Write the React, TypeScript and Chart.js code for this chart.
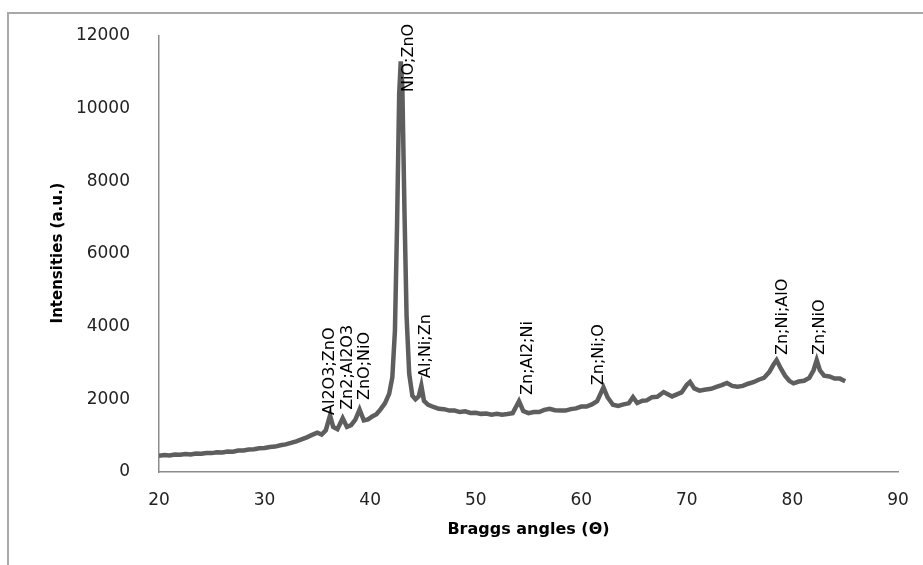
import React, { useEffect, useRef } from "react";
import { Chart, registerables } from "chart.js";
Chart.register(...registerables);

const angles = [
  20, 20.5, 21, 21.5, 22, 22.5, 23, 23.5, 24, 24.5, 25, 25.5, 26, 26.5, 27, 27.5, 28, 28.5, 29, 29.5,
  30, 30.5, 31, 31.5, 32, 32.5, 33, 33.5, 34, 34.5, 35, 35.4, 35.8, 36.2, 36.5, 36.9, 37.4, 37.8, 38.2, 38.6,
  39.0, 39.4, 39.8, 40.2, 40.6, 41.0, 41.4, 41.8, 42.1, 42.35, 42.55, 42.75, 42.9, 43.05, 43.25, 43.45, 43.7, 44.0, 44.3, 44.6,
  44.85, 45.1, 45.5, 46, 46.5, 47, 47.5, 48, 48.5, 49, 49.5, 50, 50.5, 51, 51.5, 52, 52.5, 53, 53.5, 54.1,
  54.5, 55, 55.5, 56, 56.5, 57, 57.5, 58, 58.5, 59, 59.5, 60, 60.5, 61, 61.5, 62.1, 62.5, 63, 63.5, 64,
  64.5, 64.9, 65.3, 65.8, 66.2, 66.7, 67.2, 67.8, 68.2, 68.6, 69, 69.5, 70.0, 70.3, 70.7, 71.2, 71.8, 72.3, 72.8, 73.3,
  73.8, 74.3, 74.8, 75.3, 75.8, 76.3, 76.8, 77.3, 77.8, 78.2, 78.5, 78.9, 79.3, 79.7, 80.1, 80.6, 81.1, 81.6, 82.0, 82.3,
  82.6, 83, 83.5, 84, 84.5, 85,
];
const intensities = [
  450, 465, 455, 480, 475, 495, 485, 510, 505, 525, 520, 545, 540, 565, 560, 590, 595, 620, 625, 655,
  660, 690, 700, 735, 760, 800, 845, 900, 955, 1020, 1080, 1030, 1150, 1560, 1240, 1180, 1480, 1240, 1290, 1440,
  1720, 1420, 1450, 1530, 1590, 1730, 1890, 2150, 2600, 3900, 6800, 10400, 11300, 10600, 7200, 4300, 2700, 2100, 2000, 2080,
  2380, 1960, 1850, 1790, 1740, 1730, 1690, 1690, 1650, 1670, 1625, 1630, 1600, 1610, 1580, 1605, 1575, 1595, 1620, 1950,
  1680, 1620, 1650, 1650, 1710, 1740, 1700, 1690, 1690, 1730, 1750, 1800, 1800, 1860, 1950, 2330, 2050, 1850, 1820, 1860,
  1890, 2060, 1900, 1960, 1970, 2060, 2070, 2200, 2140, 2080, 2130, 2190, 2400, 2480, 2300, 2240, 2270, 2290, 2340, 2390,
  2450, 2370, 2350, 2370, 2430, 2470, 2540, 2590, 2750, 2950, 3080, 2850, 2650, 2510, 2440, 2490, 2510, 2590, 2800, 3080,
  2800, 2650, 2630, 2570, 2570, 2500,
];

const peakLabels = ["Al2O3;ZnO", "Zn2;Al2O3", "ZnO;NiO", "NiO;ZnO", "Al;Ni;Zn", "Zn;Al2;Ni", "Zn;Ni;O", "Zn;Ni;AlO", "Zn;NiO"];
const labelAngles = [36.2, 37.9, 39.5, 43.7, 45.3, 54.9, 61.7, 79.1, 82.6];
const labelIntensities = [1570, 1710, 1980, 10460, 2590, 2120, 2390, 3220, 3220];

const xTitle = "Braggs angles (Θ)";
const yTitle = "Intensities (a.u.)";
const xMin = 20, xMax = 90, xStep = 10;
const yMin = 0, yMax = 12000, yStep = 2000;

const annotPlugin = {
  id: "annot",
  afterDatasetsDraw(chart: any) {
    const { ctx, scales } = chart;
    const xs = scales.x, ys = scales.y;
    ctx.save();
    ctx.fillStyle = "#000000";
    ctx.font = "16px 'DejaVu Sans'";
    ctx.textAlign = "left";
    ctx.textBaseline = "middle";
    peakLabels.forEach((t, i) => {
      const px = xs.getPixelForValue(labelAngles[i]);
      const py = ys.getPixelForValue(labelIntensities[i]);
      ctx.save();
      ctx.translate(px, py);
      ctx.rotate(-Math.PI / 2);
      ctx.fillText(t, 0, 0);
      ctx.restore();
    });
    ctx.restore();
  },
  afterDraw(chart: any) {
    const { ctx, chartArea } = chart;
    ctx.save();
    ctx.fillStyle = "#000000";
    ctx.textAlign = "center";
    ctx.textBaseline = "middle";
    ctx.font = "bold 16px 'DejaVu Sans'";
    ctx.fillText(xTitle, (chartArea.left + chartArea.right) / 2, 530);
    ctx.font = "bold 15px 'DejaVu Sans'";
    ctx.translate(58, 253);
    ctx.rotate(-Math.PI / 2);
    ctx.fillText(yTitle, 0, 0);
    ctx.restore();
  },
};

export default function App() {
  const ref = useRef<HTMLCanvasElement | null>(null);
  useEffect(() => {
    if (!ref.current) return;
    const chart = new Chart(ref.current, {
      type: "scatter",
      data: {
        datasets: [
          {
            data: angles.map((a, i) => ({ x: a, y: intensities[i] })),
            showLine: true,
            borderColor: "#5e5e5e",
            borderWidth: 4.5,
            pointRadius: 0,
            tension: 0,
          },
        ],
      },
      options: {
        responsive: false,
        animation: false,
        layout: { padding: { left: 0, right: 25, top: 36, bottom: 0 } },
        plugins: { legend: { display: false }, tooltip: { enabled: false } },
        scales: {
          x: {
            type: "linear",
            min: xMin,
            max: xMax,
            ticks: { stepSize: xStep, font: { family: "DejaVu Sans", size: 17 }, color: "#222", padding: 10, maxRotation: 0, callback: (v: any) => String(v) },
            grid: { display: false },
            border: { display: true, color: "#8c8c8c", width: 1.5 },
            afterFit: (s: any) => { s.height = 93; },
          },
          y: {
            type: "linear",
            min: yMin,
            max: yMax,
            ticks: { stepSize: yStep, font: { family: "DejaVu Sans", size: 17 }, color: "#222", padding: 21, callback: (v: any) => String(v) },
            grid: { display: false },
            border: { display: true, color: "#8c8c8c", width: 1.5 },
            afterFit: (s: any) => { s.width = 159; },
          },
        },
      },
      plugins: [annotPlugin],
    });
    return () => chart.destroy();
  }, []);
  return (
    <div style={{ position: "absolute", left: 0, top: 0, width: 923, height: 565, background: "#fff", overflow: "hidden" }}>
      <div style={{ position: "absolute", left: 7, top: 12, width: 930, height: 570, borderLeft: "2px solid #a8a8a8", borderTop: "2px solid #a8a8a8" }} />
      <canvas ref={ref} width={923} height={565} style={{ position: "absolute", left: 0, top: 0, display: "block" }} />
    </div>
  );
}
